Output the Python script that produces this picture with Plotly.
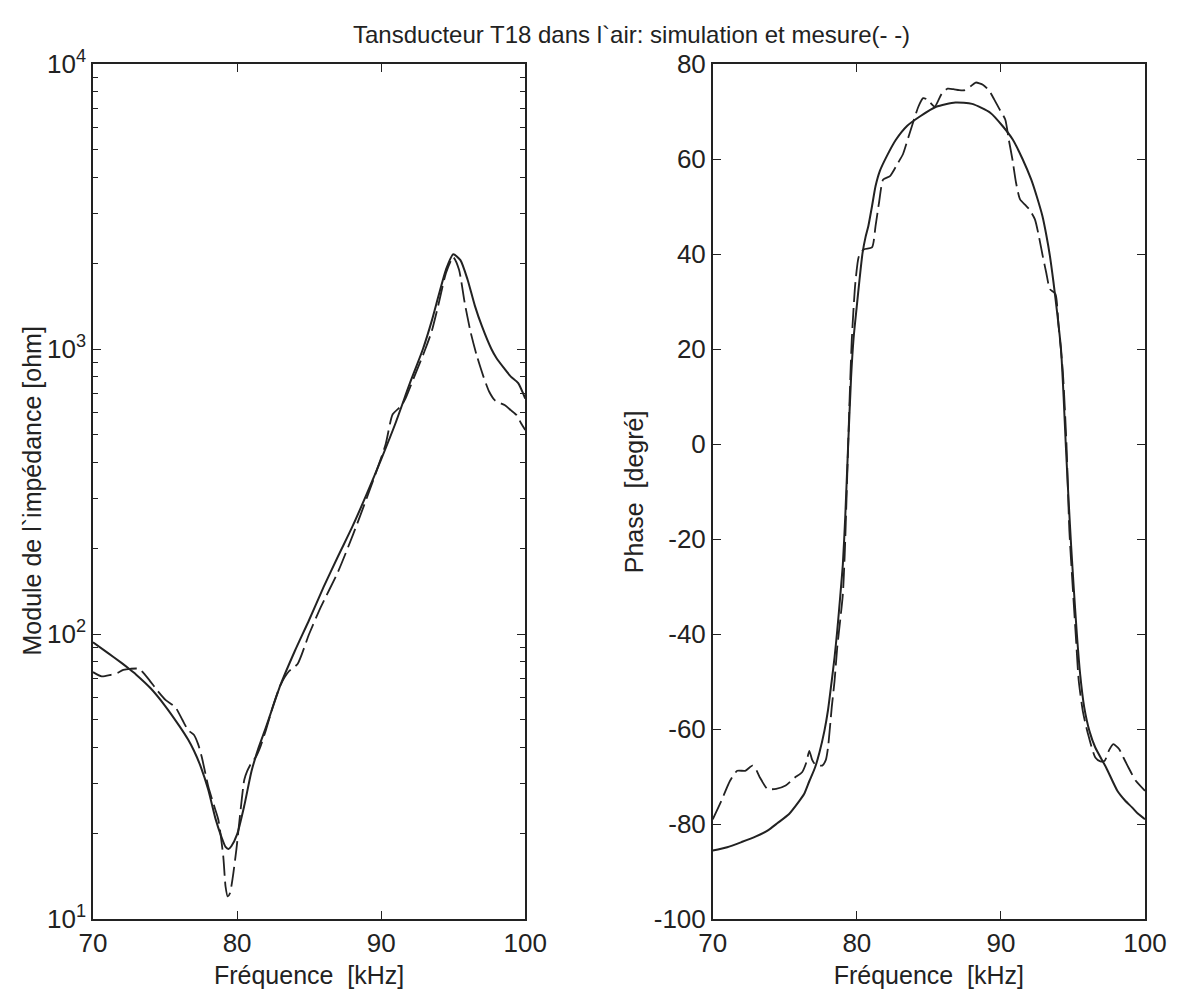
import plotly.graph_objects as go

# ---------------- data ----------------
# Module (simulation, solid)
f_mod_sim = [70, 71, 72, 72.5, 73, 74, 75, 76, 76.6, 77, 77.5, 78, 78.5, 78.9, 79.2, 79.4, 79.6,
             80.0, 80.5, 81, 81.5, 82, 83, 84, 85, 86, 87, 88, 89, 90, 91, 92, 92.9, 93.5, 94,
             94.5, 95, 95.5, 96, 96.5, 97, 97.65, 98, 98.5, 99, 99.5, 100]
z_mod_sim = [93.5, 86, 79, 75.5, 72, 64.5, 56, 47.5, 42.6, 39, 34, 28.4, 22.5, 19.5, 17.9, 17.6, 18,
             19.8, 25, 33, 40, 47, 66, 87, 112, 146, 187, 238, 310, 410, 550, 760, 1000, 1250, 1550,
             1900, 2150, 2050, 1750, 1420, 1200, 1000, 930, 860, 800, 760, 670]

# Module (mesure, dashed)
f_mod_mes = [70, 70.6, 71.2, 71.7, 72.1, 72.6, 73.2, 73.6, 73.9, 74.5, 75.05, 75.7, 76.2, 76.6, 77.0,
             77.3, 77.55, 78.0, 78.4, 78.7, 79.04, 79.2, 79.35, 79.5, 79.7, 79.95, 80.2, 80.5, 80.7,
             80.98, 81.3, 81.6, 82, 82.5, 83.0, 83.6, 84.2, 85, 85.8, 87, 88.06, 89, 90.3, 90.8,
             91.4, 91.7, 92.3, 93, 93.5, 94, 94.5, 95, 95.4, 95.8, 96.2, 96.63, 97.1, 97.5, 97.9,
             98.3, 98.57, 99, 99.4, 99.7, 100]
z_mod_mes = [73.5, 71, 71.8, 73, 74.8, 75.5, 75.5, 72, 69, 63, 58.6, 55.5, 50, 46, 44.3,
             41, 37, 29.2, 25, 22.3, 16.6, 13, 12, 12.3, 14, 17.5, 23, 30.8, 33,
             35.2, 37, 40, 46, 56, 66, 74, 78.5, 100, 124, 165, 224, 300, 461, 590,
             632, 672, 800, 980, 1150, 1450, 1850, 2100, 1900, 1450, 1150, 950, 800, 708, 660,
             645, 636, 610, 586, 550, 520]

# Phase (simulation, solid)
f_ph_sim = [70, 71, 72, 73, 73.8, 74.5, 75.3, 76, 76.34, 76.7, 77.1, 77.4, 77.75, 78, 78.26, 78.45,
            78.64, 78.85, 79.03, 79.2, 79.4, 79.6, 79.77, 80.0, 80.2, 80.4, 80.6, 80.8, 81.05, 81.3,
            81.6, 82.08, 82.7, 83.5, 84.4, 85.5, 86.84, 88, 89.28, 90.1, 90.82, 91.5, 92.1, 92.5,
            92.88, 93.15, 93.4, 93.65, 93.9, 94.17, 94.35, 94.5, 94.7, 94.88, 95.07, 95.27, 95.5,
            95.78, 96.15, 96.55, 97.3, 98.08, 98.6, 99.1, 99.5, 100]
p_ph_sim = [-85.6, -84.9, -83.8, -82.6, -81.4, -79.8, -77.9, -75.2, -73.7, -71, -68.1, -65, -60.4,
            -56, -49.8, -45, -39.3, -32, -25.3, -15, 0, 14, 22.1, 29.1, 35, 40.3, 43.5, 45.9, 50,
            54.3, 57.5, 60.6, 64, 67, 69.0, 71, 71.9, 71.6, 69.7, 67, 64.1, 60, 55.7, 52, 48, 44,
            39.6, 34, 27.7, 20.0, 10, 0, -12, -21.8, -31, -40, -48.5, -55.4, -60.5, -63.9, -68.1,
            -73, -75, -76.5, -77.8, -79]

# Phase (mesure, dashed)
f_ph_mes = [70, 70.6, 71.2, 71.7, 72.25, 72.76, 73.0, 73.27, 73.8, 74.4, 75.06, 75.7, 76.2, 76.5,
            76.7, 76.9, 77.1, 77.6, 77.85, 78.0, 78.26, 78.45, 78.64, 78.85, 79.03, 79.16, 79.3,
            79.45, 79.65, 79.9, 80.15, 80.5, 81.05, 81.3, 81.55, 81.83, 82.3, 82.86, 83.2, 83.6,
            84.27, 84.6, 84.9, 85.4, 85.9, 86.3, 86.7, 87.1, 87.5, 87.9, 88.25, 88.77, 89.2, 89.54,
            89.9, 90.3, 90.55, 90.8, 91.05, 91.33, 91.7, 91.97, 92.36, 92.65, 92.9, 93.15, 93.4,
            93.78, 94.0, 94.3, 94.55, 94.75, 95.0, 95.2, 95.4, 95.7, 96.04, 96.55, 96.9, 97.2,
            97.5, 97.8, 98.2, 98.5, 98.85, 99.36, 100]
p_ph_mes = [-79, -75.1, -70.9, -68.8, -68.8, -67.7, -68.5, -70.2, -72.6, -72.6, -71.9, -70.2, -69.1,
            -67, -64.6, -66.5, -67.4, -67.7, -66.5, -63.9, -55.4, -50, -42.8, -37, -31.6, -23.2,
            -10, 5, 22, 34, 39.6, 41, 41.4, 45.9, 51, 55.7, 56.4, 59.2, 61, 64.8, 71, 72.8, 72.5,
            71, 73.8, 74.8, 74.7, 74.5, 74.5, 75.3, 76.1, 75.6, 74.3, 72.5, 70.5, 68.3, 64, 59.9,
            55, 51.5, 50.3, 49.4, 47.3, 43.5, 39.6, 36, 32.6, 31.6, 25, 15.1, 0, -18.2, -30.9,
            -40.5, -49.8, -56.5, -61, -66, -66.8, -66.7, -64.5, -63.2, -64.2, -66, -68.1, -70.9,
            -73]

x_ticks = [70, 80, 90, 100]
mod_ticks = [10, 100, 1000, 10000]
mod_ticktext = ["10<sup>1</sup>", "10<sup>2</sup>", "10<sup>3</sup>", "10<sup>4</sup>"]
mod_minor = [m * d for d in [10, 100, 1000] for m in range(2, 10)]
ph_ticks = [-100, -80, -60, -40, -20, 0, 20, 40, 60, 80]
ph_ticktext = ["-100", "-80", "-60", "-40", "-20", "0", "20", "40", "60", "80"]

title_text = "Tansducteur T18 dans l`air: simulation et mesure(- -)"

# ---------------- figure ----------------
INK = "#222222"
FONT = "Liberation Sans, Arial, sans-serif"
# page body has an 8px default margin, so the figure is drawn 8px in from the window edge
OFF = 8
W, H = 1187 - 2 * OFF, 1005 - 2 * OFF
L, T = 93 - OFF, 64 - OFF
R = (1187 - OFF) - 1159
B = (1005 - OFF) - 923
pw = W - L - R

fig = go.Figure()
fig.add_trace(go.Scatter(x=f_mod_sim, y=z_mod_sim, mode="lines",
                         line=dict(color=INK, width=2, shape="spline", smoothing=0.6),
                         xaxis="x", yaxis="y", showlegend=False))
fig.add_trace(go.Scatter(x=f_mod_mes, y=z_mod_mes, mode="lines",
                         line=dict(color=INK, width=1.8, dash="20px,6px", shape="spline", smoothing=0.6),
                         xaxis="x", yaxis="y", showlegend=False))
fig.add_trace(go.Scatter(x=f_ph_sim, y=p_ph_sim, mode="lines",
                         line=dict(color=INK, width=2, shape="spline", smoothing=0.6),
                         xaxis="x2", yaxis="y2", showlegend=False))
fig.add_trace(go.Scatter(x=f_ph_mes, y=p_ph_mes, mode="lines",
                         line=dict(color=INK, width=1.8, dash="20px,6px", shape="spline", smoothing=0.6),
                         xaxis="x2", yaxis="y2", showlegend=False))

axis_common = dict(showgrid=False, zeroline=False, showline=True, linecolor=INK, linewidth=1.5,
                   mirror="allticks", ticks="inside", ticklen=8, tickwidth=1.2, tickcolor=INK,
                   tickfont=dict(family=FONT, size=26, color=INK))

d1 = (531 - 93) / pw
d2 = (721 - 93) / pw

fig.update_layout(
    width=W, height=H,
    margin=dict(l=L, r=R, t=T, b=B),
    paper_bgcolor="white", plot_bgcolor="white",
    xaxis=dict(domain=[0, d1], range=[70, 100], tickvals=x_ticks, anchor="y",
               title=dict(text="Fréquence  [kHz]", font=dict(family=FONT, size=25, color=INK), standoff=10),
               **axis_common),
    yaxis=dict(domain=[0, 1], type="log", range=[1, 4], tickvals=mod_ticks, ticktext=mod_ticktext, anchor="x",
               minor=dict(tickvals=mod_minor, ticks="inside", ticklen=5, tickcolor=INK, showgrid=False),
               **axis_common),
    xaxis2=dict(domain=[d2, 1], range=[70, 100], tickvals=x_ticks, anchor="y2",
                title=dict(text="Fréquence  [kHz]", font=dict(family=FONT, size=25, color=INK), standoff=10),
                **axis_common),
    yaxis2=dict(domain=[0, 1], range=[-100, 80], tickvals=ph_ticks, ticktext=ph_ticktext, anchor="x2",
                **axis_common),
    annotations=[
        dict(text=title_text, xref="paper", yref="paper", x=0.5, xshift=12, y=1, yshift=14,
             xanchor="center", yanchor="bottom",
             showarrow=False, font=dict(family=FONT, size=24, color=INK)),
        dict(text="Module de l`impédance [ohm]", textangle=-90, xref="paper", yref="paper", x=0, xshift=-62,
             y=0.5, xanchor="center", yanchor="middle", showarrow=False,
             font=dict(family=FONT, size=25, color=INK)),
        dict(text="Phase  [degré]", textangle=-90, xref="paper", yref="paper", x=d2, xshift=-79,
             y=0.5, xanchor="center", yanchor="middle", showarrow=False,
             font=dict(family=FONT, size=25, color=INK)),
    ],
)

fig.write_html("out.html")
